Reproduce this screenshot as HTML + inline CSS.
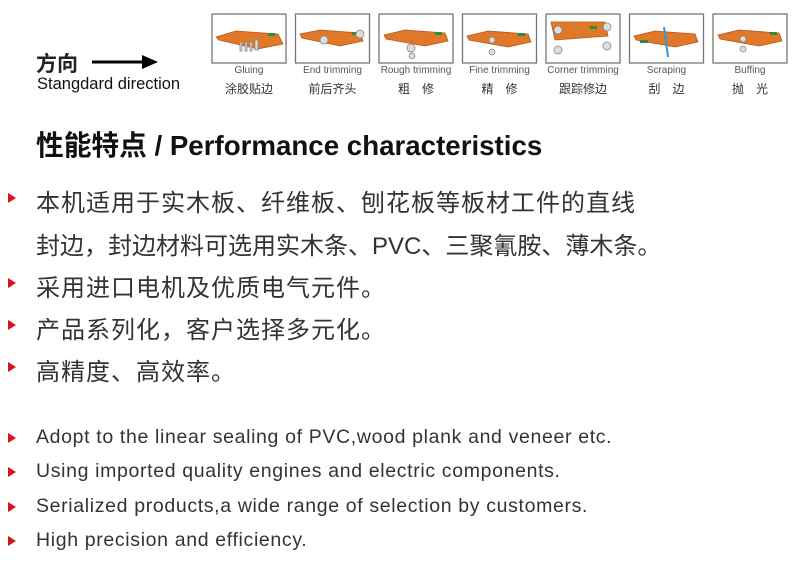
<!DOCTYPE html>
<html><head><meta charset="utf-8"><style>
body{margin:0;background:#fff;width:800px;height:563px;position:relative;overflow:hidden;font-family:"Liberation Sans","Noto Sans CJK SC",sans-serif;color:#222}
.a{position:absolute;white-space:nowrap}
.cn{font-size:24px;letter-spacing:1px;color:#333;left:36px}
.en{font-size:19.5px;letter-spacing:0.65px;color:#333;left:36px}
.tri{position:absolute;left:8px;width:0;height:0;border-top:5px solid transparent;border-bottom:5px solid transparent;border-left:8px solid #d7141a}
.lab{position:absolute;width:84px;text-align:center;font-size:10px;color:#555}
.lab2{position:absolute;width:84px;text-align:center;font-size:12px;color:#333}
</style></head><body>
<div class="a" style="left:36px;top:48px;font-size:21px;font-weight:bold">方向</div>
<svg class="a" style="left:92px;top:54px" width="72" height="16"><line x1="0" y1="8" x2="52" y2="8" stroke="#000" stroke-width="3"/><polygon points="50,1 66,8 50,15" fill="#000"/></svg>
<div class="a" style="left:37px;top:75px;font-size:16.5px;color:#111">Stangdard direction</div>

<svg class="a" style="left:0;top:0" width="800" height="70">
<g fill="none" stroke="#777" stroke-width="1.3">
<rect x="212" y="14" width="74" height="49"/><rect x="295.5" y="14" width="74" height="49"/><rect x="379" y="14" width="74" height="49"/><rect x="462.5" y="14" width="74" height="49"/><rect x="546" y="14" width="74" height="49"/><rect x="629.5" y="14" width="74" height="49"/><rect x="713" y="14" width="74" height="49"/>
</g>
<g fill="#e0782a" stroke="#b8561a" stroke-width="0.8">
<polygon points="216,37 236,31 278,34 283,44 258,49 219,40"/>
<polygon points="300,34 320,30 360,33 363,41 340,46 302,38"/>
<polygon points="384,35 405,30 445,33 448,41 425,46 386,39"/>
<polygon points="467,36 488,31 528,34 531,42 508,47 469,40"/>
<polygon points="551,22 605,22 608,36 555,40"/>
<polygon points="634,36 655,31 695,34 698,42 675,47 636,40"/>
<polygon points="718,35 739,30 779,33 782,41 759,46 720,39"/>
</g>
<g fill="#2e8b3e"><rect x="268" y="33" width="7" height="3"/><rect x="352" y="32" width="7" height="3"/><rect x="435" y="32" width="7" height="3"/><rect x="518" y="33" width="7" height="3"/><rect x="590" y="26" width="7" height="3"/><rect x="640" y="40" width="8" height="3"/><rect x="770" y="32" width="7" height="3"/></g>
<g fill="#ddd" stroke="#888" stroke-width="0.8">
<rect x="240" y="42" width="2" height="9"/><rect x="245" y="42" width="2" height="9"/><rect x="250" y="42" width="2" height="9"/><rect x="255" y="40" width="3" height="10"/>
<circle cx="324" cy="40" r="4"/><circle cx="360" cy="34" r="4"/>
<circle cx="411" cy="48" r="4"/><circle cx="412" cy="56" r="3"/>
<circle cx="492" cy="40" r="3"/><circle cx="492" cy="52" r="3"/>
<circle cx="558" cy="30" r="4"/><circle cx="607" cy="27" r="4"/><circle cx="558" cy="50" r="4"/><circle cx="607" cy="46" r="4"/>
<circle cx="743" cy="39" r="3"/><circle cx="743" cy="49" r="3"/>
</g>
<line x1="664" y1="27" x2="668" y2="57" stroke="#2a9ad8" stroke-width="2"/>
</svg>
<div class="lab" style="left:207px;top:65px">Gluing</div><div class="lab2" style="left:207px;top:80px">涂胶贴边</div>
<div class="lab" style="left:290.5px;top:65px">End trimming</div><div class="lab2" style="left:290.5px;top:80px">前后齐头</div>
<div class="lab" style="left:374px;top:65px">Rough trimming</div><div class="lab2" style="left:374px;top:80px">粗　修</div>
<div class="lab" style="left:457.5px;top:65px">Fine trimming</div><div class="lab2" style="left:457.5px;top:80px">精　修</div>
<div class="lab" style="left:541px;top:65px">Corner trimming</div><div class="lab2" style="left:541px;top:80px">跟踪修边</div>
<div class="lab" style="left:624.5px;top:65px">Scraping</div><div class="lab2" style="left:624.5px;top:80px">刮　边</div>
<div class="lab" style="left:708px;top:65px">Buffing</div><div class="lab2" style="left:708px;top:80px">抛　光</div>

<div class="a" style="left:36px;top:123px;font-size:27.7px;font-weight:bold;color:#111">性能特点 / Performance characteristics</div>

<div class="tri" style="top:193px"></div><div class="a cn" style="top:183px">本机适用于实木板、纤维板、刨花板等板材工件的直线</div>
<div class="a cn" style="top:226px;letter-spacing:0">封边，封边材料可选用实木条、PVC、三聚氰胺、薄木条。</div>
<div class="tri" style="top:278px"></div><div class="a cn" style="top:268px">采用进口电机及优质电气元件。</div>
<div class="tri" style="top:320px"></div><div class="a cn" style="top:310px">产品系列化，客户选择多元化。</div>
<div class="tri" style="top:362px"></div><div class="a cn" style="top:352px">高精度、高效率。</div>

<div class="tri" style="top:433px"></div><div class="a en" style="top:426px">Adopt to the linear sealing of PVC,wood plank and veneer etc.</div>
<div class="tri" style="top:467px"></div><div class="a en" style="top:460px">Using imported quality engines and electric components.</div>
<div class="tri" style="top:502px"></div><div class="a en" style="top:495px">Serialized products,a wide range of selection by customers.</div>
<div class="tri" style="top:536px"></div><div class="a en" style="top:529px">High precision and efficiency.</div>
</body></html>
